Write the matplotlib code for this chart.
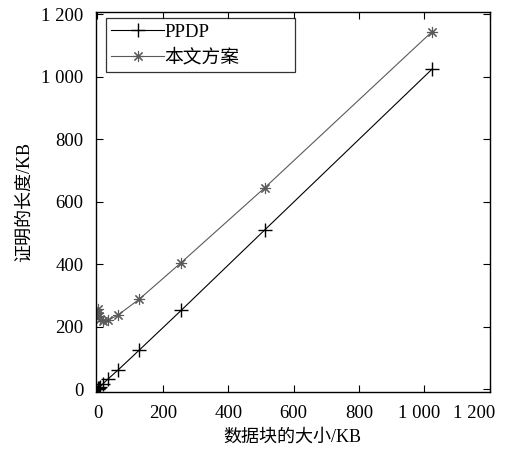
import matplotlib
matplotlib.use("Agg")
import matplotlib.pyplot as plt
from matplotlib.transforms import ScaledTranslation

plt.rcParams['font.family'] = ['Liberation Serif', 'Noto Sans CJK SC']
plt.rcParams['axes.unicode_minus'] = False

# 数据块大小 (KB)
block_size = [1, 2, 4, 8, 16, 32, 64, 128, 256, 512, 1024]
ppdp = [1, 2, 4, 8, 16, 32, 62, 125, 252, 510, 1025]
ours = [255, 245, 235, 225, 218, 220, 238, 288, 405, 645, 1145]

xticks = [0, 200, 400, 600, 800, 1000, 1200]
xticklabels = ["0", "200", "400", "600", "800", "1 000", "1 200"]
yticks = [0, 200, 400, 600, 800, 1000, 1200]
yticklabels = ["0", "200", "400", "600", "800", "1 000", "1 200"]

fig = plt.figure(figsize=(5.07, 4.55), dpi=100)
ax = fig.add_axes([0.189, 0.138, 0.777, 0.836])

ax.plot(block_size, ppdp, color='black', lw=0.8, marker='+', ms=10,
        mew=1.0, label='PPDP')
ax.plot(block_size, ours, color='#5a5a5a', lw=0.8, marker=(8, 2, 0), ms=8,
        mew=0.8, label='本文方案')

ax.set_xlim(-5, 1200)
ax.set_ylim(-10, 1208)
ax.set_xticks(xticks)
ax.set_xticklabels(xticklabels)
ax.set_yticks(yticks)
ax.set_yticklabels(yticklabels)
ax.tick_params(direction='in', top=True, right=True, labelsize=13.5, length=5,
               width=0.8, pad=9)
# 1 000 / 1 200 标签稍微左移, 避免重叠
labs = ax.get_xticklabels()
labs[-2].set_transform(labs[-2].get_transform() + ScaledTranslation(-0.05, 0, fig.dpi_scale_trans))
labs[-1].set_transform(labs[-1].get_transform() + ScaledTranslation(-0.16, 0, fig.dpi_scale_trans))
for s in ax.spines.values():
    s.set_linewidth(1.0)

ax.set_xlabel('数据块的大小/KB', fontsize=13, labelpad=5)
ax.set_ylabel('证明的长度/KB', fontsize=13, labelpad=6)

leg = ax.legend(loc='upper left', bbox_to_anchor=(0.025, 0.839, 0.48, 0.145),
                mode='expand', borderaxespad=0, fontsize=13.5, handlelength=2.8,
                frameon=True, fancybox=False, edgecolor='black',
                borderpad=0.3, labelspacing=0.45, handletextpad=0.05)
leg.get_frame().set_linewidth(0.9)

fig.savefig('out.png', dpi=100)
